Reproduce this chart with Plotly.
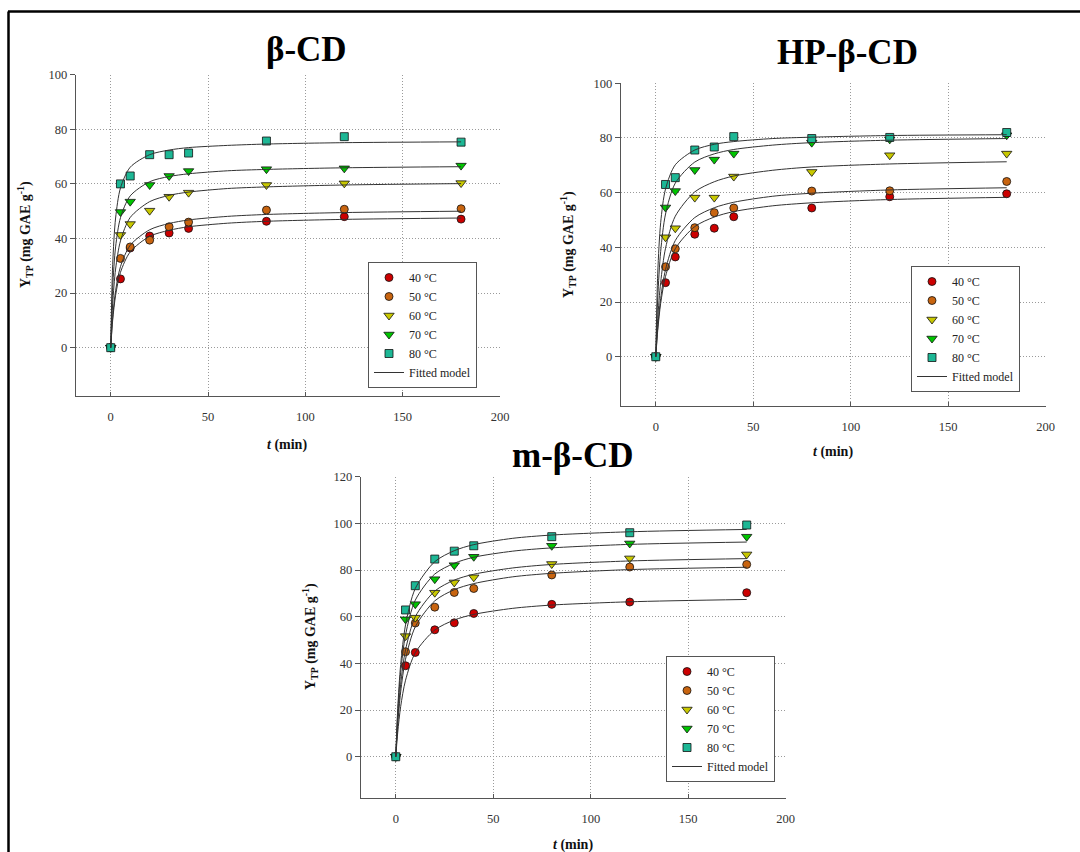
import plotly.graph_objects as go

# ---------------- data ----------------
times = [0, 5, 10, 20, 30, 40, 80, 120, 180]
t_fit = [0, 1, 2.5, 5, 10, 20, 30, 40, 60, 80, 120, 180]
temp_labels = ["40 °C", "50 °C", "60 °C", "70 °C", "80 °C"]
panel_titles = ["β-CD", "HP-β-CD", "m-β-CD"]
x_ticks = [0, 50, 100, 150, 200]
y_ticks_a = [0, 20, 40, 60, 80, 100]
y_ticks_b = [0, 20, 40, 60, 80, 100, 120]

# β-CD measured
bcd_40 = [0, 25.2, 36.5, 40.9, 42.0, 43.7, 46.3, 48.0, 47.1]
bcd_50 = [0, 32.7, 36.9, 39.4, 44.3, 46.0, 50.4, 50.7, 50.9]
bcd_60 = [0, 41.3, 45.3, 50.2, 55.3, 56.8, 59.6, 60.2, 60.3]
bcd_70 = [0, 49.7, 53.5, 59.6, 62.9, 64.7, 65.4, 65.7, 66.7]
bcd_80 = [0, 60.0, 62.9, 70.7, 70.7, 71.3, 75.7, 77.3, 75.3]
# HP-β-CD measured
hp_40 = [0, 27.1, 36.5, 44.8, 47.0, 51.2, 54.4, 58.5, 59.6]
hp_50 = [0, 32.9, 39.5, 47.2, 52.7, 54.4, 60.6, 60.7, 64.1]
hp_60 = [0, 43.7, 47.0, 58.2, 58.2, 65.9, 67.6, 73.7, 74.3]
hp_70 = [0, 54.6, 60.6, 68.3, 72.1, 74.3, 78.3, 79.5, 81.0]
hp_80 = [0, 63.0, 65.5, 75.6, 76.7, 80.5, 79.8, 80.2, 82.0]
# m-β-CD measured
m_40 = [0, 39.0, 44.7, 54.4, 57.4, 61.4, 65.3, 66.3, 70.3]
m_50 = [0, 45.0, 57.3, 64.1, 70.4, 72.1, 77.9, 81.3, 82.4]
m_60 = [0, 51.7, 59.6, 70.3, 74.7, 76.9, 82.6, 85.0, 86.7]
m_70 = [0, 58.9, 65.4, 76.1, 82.1, 85.7, 90.4, 91.4, 94.3]
m_80 = [0, 62.9, 73.3, 84.7, 88.1, 90.4, 94.3, 96.0, 99.3]

# fitted model curves (at t_fit)
bcd_fit_40 = [0, 10.1, 19.2, 27.6, 35.1, 40.8, 43.0, 44.3, 45.6, 46.3, 47.0, 47.5]
bcd_fit_50 = [0, 11.1, 20.9, 29.7, 37.5, 43.2, 45.5, 46.8, 48.1, 48.8, 49.5, 50.0]
bcd_fit_60 = [0, 16.1, 28.8, 39.1, 47.7, 53.5, 55.8, 57.0, 58.3, 58.9, 59.6, 60.1]
bcd_fit_70 = [0, 22.0, 36.9, 47.6, 55.6, 60.8, 62.7, 63.7, 64.8, 65.3, 65.9, 66.3]
bcd_fit_80 = [0, 30.4, 47.5, 58.5, 66.1, 70.7, 72.4, 73.3, 74.1, 74.6, 75.1, 75.4]
hp_fit_40 = [0, 9.7, 19.5, 29.4, 39.5, 47.6, 51.1, 53.1, 55.2, 56.3, 57.5, 58.3]
hp_fit_50 = [0, 10.7, 21.3, 31.9, 42.5, 50.9, 54.5, 56.5, 58.7, 59.8, 61.0, 61.8]
hp_fit_60 = [0, 14.0, 27.2, 39.7, 51.4, 60.3, 64.0, 66.1, 68.2, 69.4, 70.5, 71.3]
hp_fit_70 = [0, 21.5, 38.5, 52.2, 63.5, 71.2, 74.2, 75.8, 77.4, 78.3, 79.2, 79.8]
hp_fit_80 = [0, 30.6, 49.0, 61.4, 70.2, 75.6, 77.7, 78.7, 79.8, 80.3, 80.9, 81.2]
m_fit_40 = [0, 10.5, 21.5, 32.8, 44.6, 54.3, 58.6, 61.0, 63.6, 65.0, 66.4, 67.4]
m_fit_50 = [0, 13.9, 27.8, 41.8, 55.7, 66.8, 71.6, 74.2, 77.1, 78.6, 80.2, 81.2]
m_fit_60 = [0, 15.8, 31.1, 45.8, 60.0, 71.0, 75.7, 78.2, 80.9, 82.4, 83.9, 84.9]
m_fit_70 = [0, 18.8, 36.2, 52.2, 67.1, 78.3, 82.9, 85.5, 88.1, 89.5, 91.0, 92.0]
m_fit_80 = [0, 20.7, 39.5, 56.5, 72.1, 83.6, 88.3, 90.9, 93.6, 95.0, 96.4, 97.4]

# ---------------- styles ----------------
W, H = 1080, 852
SERIF = "Liberation Serif"
colors = ["#CC0000", "#C8640F", "#C8C800", "#00C400", "#1DB795"]
symbols = ["circle", "circle", "triangle-down", "triangle-down", "square"]
sizes = [8, 8, 9, 9, 8]

def px(x):
    return x / W

def py(y):
    return 1 - y / H

panels = [
    dict(meas=[bcd_40, bcd_50, bcd_60, bcd_70, bcd_80],
         fit=[bcd_fit_40, bcd_fit_50, bcd_fit_60, bcd_fit_70, bcd_fit_80],
         box=(75.7, 500.0, 74.7, 396.0), yr=[-17.7, 100], yt=y_ticks_a,
         title_xy=(306, 50), ytitle_xy=(25, 235), xtitle_xy=(287, 445),
         legend_xy=(368, 262)),
    dict(meas=[hp_40, hp_50, hp_60, hp_70, hp_80],
         fit=[hp_fit_40, hp_fit_50, hp_fit_60, hp_fit_70, hp_fit_80],
         box=(620.7, 1045.7, 83.3, 405.7), yr=[-17.9, 100], yt=y_ticks_a,
         title_xy=(847, 53), ytitle_xy=(568, 245), xtitle_xy=(833, 452),
         legend_xy=(911, 266)),
    dict(meas=[m_40, m_50, m_60, m_70, m_80],
         fit=[m_fit_40, m_fit_50, m_fit_60, m_fit_70, m_fit_80],
         box=(360.7, 785.7, 476.7, 798.3), yr=[-17.8, 120], yt=y_ticks_b,
         title_xy=(572, 455), ytitle_xy=(310, 637), xtitle_xy=(573, 845),
         legend_xy=(666, 656)),
]

fig = go.Figure()
layout = dict(
    width=W, height=H, margin=dict(l=0, r=0, t=0, b=0, pad=0, autoexpand=False),
    paper_bgcolor="white", plot_bgcolor="white",
    font=dict(family=SERIF, color="#222", size=12),
    showlegend=True, annotations=[], shapes=[],
)

for i, p in enumerate(panels):
    sfx = "" if i == 0 else str(i + 1)
    xa, ya = "x" + sfx, "y" + sfx
    leg = "legend" + sfx
    for k in range(5):
        fig.add_trace(go.Scatter(
            x=times, y=p["meas"][k], mode="markers", name=temp_labels[k],
            xaxis=xa, yaxis=ya, legend=leg,
            marker=dict(symbol=symbols[k], size=sizes[k], color=colors[k],
                        line=dict(color="#111", width=0.8)),
        ))
    for k in range(5):
        fig.add_trace(go.Scatter(
            x=t_fit, y=p["fit"][k], mode="lines", name="Fitted model",
            xaxis=xa, yaxis=ya, legend=leg, showlegend=(k == 0),
            line=dict(color="#333", width=1, shape="spline", smoothing=0.8),
        ))
    x0, x1, y0, y1 = p["box"]
    layout["xaxis" + sfx] = dict(
        domain=[px(x0), px(x1)], range=[-18, 200], anchor=ya,
        tickvals=x_ticks, ticks="inside", ticklen=4, tickcolor="#555",
        showline=True, linecolor="#555", linewidth=1, mirror=False,
        showgrid=True, gridcolor="#9a9a9a", griddash="1px,2px", gridwidth=1,
        zeroline=False, ticklabelstandoff=9,
        tickfont=dict(family=SERIF, size=12.5, color="#333"),
    )
    layout["yaxis" + sfx] = dict(
        domain=[py(y1), py(y0)], range=p["yr"], anchor=xa,
        tickvals=p["yt"], ticks="outside", ticklen=5, tickcolor="#555",
        showline=True, linecolor="#555", linewidth=1, mirror=False,
        showgrid=True, gridcolor="#9a9a9a", griddash="1px,2px", gridwidth=1,
        zeroline=False,
        tickfont=dict(family=SERIF, size=12.5, color="#333"),
    )
    lx, ly = p["legend_xy"]
    layout[leg] = dict(
        x=px(lx), y=py(ly), xanchor="left", yanchor="top",
        xref="paper", yref="paper",
        bgcolor="white", bordercolor="#555", borderwidth=1,
        font=dict(family=SERIF, size=12, color="#222"),
        tracegroupgap=0, itemwidth=30,
    )
    tx, ty = p["title_xy"]
    layout["annotations"].append(dict(
        text="<b>" + panel_titles[i] + "</b>", x=px(tx), y=py(ty),
        xref="paper", yref="paper", showarrow=False,
        xanchor="center", yanchor="middle",
        font=dict(family=SERIF, size=35, color="#000"),
    ))
    yx, yy = p["ytitle_xy"]
    layout["annotations"].append(dict(
        text="<b>Y<sub>TP</sub> (mg GAE g<sup>-1</sup>)</b>", x=px(yx), y=py(yy),
        xref="paper", yref="paper", showarrow=False, textangle=-90,
        xanchor="center", yanchor="middle",
        font=dict(family=SERIF, size=14, color="#111"),
    ))
    xx, xy = p["xtitle_xy"]
    layout["annotations"].append(dict(
        text="<b><i>t</i> (min)</b>", x=px(xx), y=py(xy),
        xref="paper", yref="paper", showarrow=False,
        xanchor="center", yanchor="middle",
        font=dict(family=SERIF, size=14, color="#111"),
    ))

# outer frame (top and left edges)
layout["shapes"].append(dict(type="line", xref="paper", yref="paper",
                             x0=px(8), x1=1, y0=py(11.5), y1=py(11.5),
                             line=dict(color="#000", width=2.5)))
layout["shapes"].append(dict(type="line", xref="paper", yref="paper",
                             x0=px(8.5), x1=px(8.5), y0=py(11.5), y1=0,
                             line=dict(color="#000", width=2.5)))

fig.update_layout(**layout)
fig.write_html("out.html")
